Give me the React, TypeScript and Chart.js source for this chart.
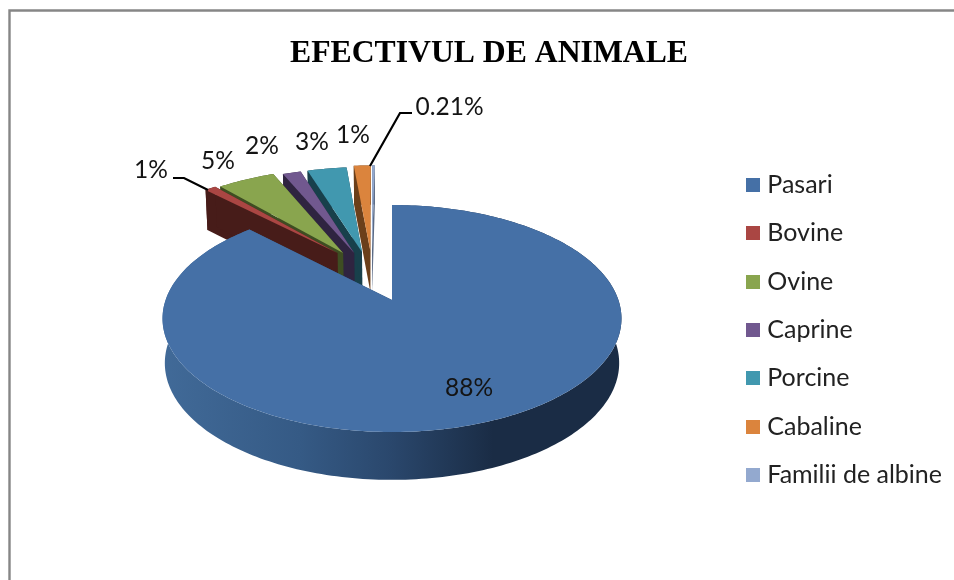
import React, { useEffect, useRef } from "react";
import { Chart, registerables } from "chart.js";

Chart.register(...registerables);

const categories = ["Pasari", "Bovine", "Ovine", "Caprine", "Porcine", "Cabaline", "Familii de albine"];
const shares = [87.6, 0.95, 4.9, 1.55, 3.35, 1.44, 0.21];

// How far each slice is pulled out of the pie (fraction of radius) and in which direction (degrees left of top)
const explodeFractions = [0, 0.525, 0.513, 0.49, 0.488, 0.5, 0.5];
const explodeDirections = [0, 29.6, 26.9, 21.5, 17, 12, 11];

const topColors = ["#4570a6", "#aa4643", "#89a54e", "#71588f", "#4198af", "#db843d", "#93a9cf"];
const sideColors = ["#2b4a70", "#471c19", "#3e4d22", "#2f2440", "#18404b", "#6b3f1a", "#5a6a85"];

// 3D pie projection (perspective tilt of the plane of the pie, in pixels)
const VIEW = { cx: 392, cy: 300, halfW: 226.4, halfH: 110.5, persp: 0.163, depth: 44, depthPersp: 0.08, outRim: 1.03 };

// Text placement of each percentage label (centre x, centre y)
const LABEL_AT: [number, number][] = [
  [469, 388], [151, 170], [218, 161], [262, 146], [312, 142], [353, 135], [449.5, 107],
];
// Leader lines, keyed by category index
const LEADERS: Record<number, [number, number][]> = {
  1: [[173, 178], [184, 178], [208, 190]],
  6: [[412, 113], [400, 113], [370, 166]],
};

function project(u: number, v: number, drop = false): [number, number] {
  const s = 1 / (1 - VIEW.persp * v);
  const x = VIEW.cx + VIEW.halfW * u * s * (drop ? 0.99 : 1);
  const y = VIEW.cy + VIEW.halfH * v * s + (drop ? VIEW.depth / (1 - VIEW.depthPersp * v) : 0);
  return [x, y];
}

function tracePoly(ctx: CanvasRenderingContext2D, pts: [number, number][]) {
  ctx.beginPath();
  pts.forEach((p, i) => (i ? ctx.lineTo(p[0], p[1]) : ctx.moveTo(p[0], p[1])));
  ctx.closePath();
}

function swatch(color: string) {
  const c = document.createElement("canvas");
  c.width = 14;
  c.height = 14;
  const g = c.getContext("2d") as CanvasRenderingContext2D;
  g.fillStyle = color;
  g.fillRect(0, 0, 14, 14);
  return c;
}

const pie3d = {
  id: "pie3d",
  beforeDraw(chart: any) {
    const { ctx, width, height } = chart;
    ctx.save();
    ctx.fillStyle = "#ffffff";
    ctx.fillRect(0, 0, width, height);
    ctx.strokeStyle = "#868686";
    ctx.lineWidth = 2.4;
    ctx.beginPath();
    ctx.moveTo(9.5, height);
    ctx.lineTo(9.5, 10.5);
    ctx.lineTo(width, 10.5);
    ctx.stroke();
    ctx.restore();
  },
  beforeDatasetsDraw(chart: any) {
    const ctx: CanvasRenderingContext2D = chart.ctx;
    const arcs = chart.getDatasetMeta(0).data as any[];
    // far slices first, the large slice last
    const order = arcs.map((_, i) => i).slice(1).reverse();
    order.push(0);
    ctx.save();
    for (const i of order) {
      const { startAngle, endAngle } = arcs[i];
      const e = explodeFractions[i];
      const dir = -Math.PI / 2 - (explodeDirections[i] * Math.PI) / 180;
      const ou = e * Math.cos(dir);
      const ov = e * Math.sin(dir);
      const radius = e > 0 ? VIEW.outRim : 1;
      const n = Math.max(2, Math.ceil((endAngle - startAngle) / 0.02));
      const rim: [number, number][] = [];
      for (let k = 0; k <= n; k++) {
        const a = startAngle + ((endAngle - startAngle) * k) / n;
        rim.push([ou + radius * Math.cos(a), ov + radius * Math.sin(a)]);
      }
      const topFace = [project(ou, ov), ...rim.map((p) => project(p[0], p[1]))];
      let side: any = sideColors[i];
      if (i === 0) {
        const g = ctx.createLinearGradient(VIEW.cx - 230, 0, VIEW.cx + 230, 0);
        g.addColorStop(0, "#416a98");
        g.addColorStop(0.3, "#355a85");
        g.addColorStop(0.5, "#2a476c");
        g.addColorStop(0.72, "#1a2c45");
        g.addColorStop(1, "#1a2c45");
        side = g;
      }
      ctx.fillStyle = side;
      tracePoly(ctx, [
        ...rim.map((p) => project(p[0], p[1])),
        ...rim.slice().reverse().map((p) => project(p[0], p[1], true)),
      ]);
      ctx.fill();
      for (const p of [rim[0], rim[rim.length - 1]]) {
        tracePoly(ctx, [project(ou, ov), project(p[0], p[1]), project(p[0], p[1], true), project(ou, ov, true)]);
        ctx.fill();
      }
      ctx.fillStyle = topColors[i];
      tracePoly(ctx, topFace);
      ctx.fill();
    }
    ctx.restore();
    return false;
  },
  afterDraw(chart: any) {
    const ctx: CanvasRenderingContext2D = chart.ctx;
    ctx.save();
    ctx.strokeStyle = "#000000";
    ctx.lineWidth = 2.2;
    Object.values(LEADERS).forEach((pts) => {
      ctx.beginPath();
      pts.forEach((p, i) => (i ? ctx.lineTo(p[0], p[1]) : ctx.moveTo(p[0], p[1])));
      ctx.stroke();
    });
    ctx.fillStyle = "#141414";
    ctx.font = '24.5px Lato, "Noto Sans", sans-serif';
    ctx.textAlign = "center";
    ctx.textBaseline = "middle";
    shares.forEach((v, i) => {
      const text = v < 0.5 ? `${v.toFixed(2)}%` : `${Math.round(v)}%`;
      ctx.fillText(text, LABEL_AT[i][0], LABEL_AT[i][1]);
    });
    ctx.restore();
  },
};

export default function App() {
  const ref = useRef<HTMLCanvasElement | null>(null);
  useEffect(() => {
    document.body.style.margin = "0";
    const swatches = topColors.map(swatch);
    const chart = new Chart(ref.current as HTMLCanvasElement, {
      type: "pie",
      data: {
        labels: categories,
        datasets: [{ data: shares, backgroundColor: topColors, borderWidth: 0 }],
      },
      options: {
        responsive: false,
        animation: false,
        devicePixelRatio: 1,
        layout: { padding: { left: 26, right: 26, top: 0, bottom: 0 } },
        plugins: {
          tooltip: { enabled: false },
          title: {
            display: true,
            text: "EFECTIVUL DE ANIMALE",
            color: "#000000",
            font: { family: '"Liberation Serif", serif', size: 31.7, weight: "bold" },
            padding: { top: 35, bottom: 12 },
          },
          legend: {
            position: "right",
            labels: {
              usePointStyle: true,
              pointStyleWidth: 3,
              boxHeight: 14,
              padding: 23.3,
              color: "#222222",
              font: { family: 'Lato, "Noto Sans", sans-serif', size: 25 },
              generateLabels(c: any) {
                const items = (Chart as any).overrides.pie.plugins.legend.labels.generateLabels(c);
                return items.map((it: any, i: number) => ({ ...it, pointStyle: swatches[i] }));
              },
            },
          },
        },
      },
      plugins: [pie3d],
    } as any);
    return () => chart.destroy();
  }, []);
  return (
    <div style={{ width: 954, height: 580, overflow: "hidden" }}>
      <canvas ref={ref} width={978} height={660} style={{ display: "block" }} />
    </div>
  );
}
